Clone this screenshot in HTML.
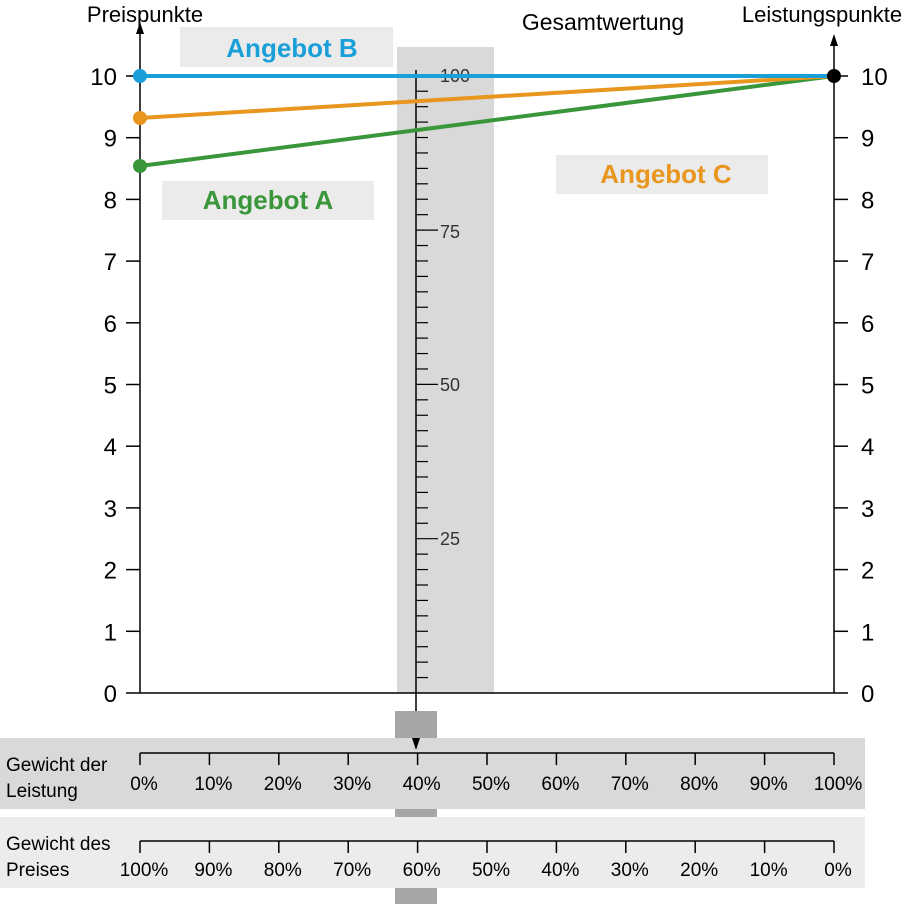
<!DOCTYPE html>
<html><head><meta charset="utf-8"><style>
body{margin:0;background:#fff;}
svg{display:block;font-family:"Liberation Sans",sans-serif;}
</style></head><body>
<svg width="918" height="904" viewBox="0 0 918 904">
<rect x="397" y="47" width="97" height="646" fill="#d9d9d9"/>
<rect x="180" y="27" width="213" height="40" fill="#ebebeb"/>
<rect x="162" y="181" width="212" height="39" fill="#ebebeb"/>
<rect x="556" y="155" width="212" height="39" fill="#ebebeb"/>
<text x="292" y="57" font-size="26" font-weight="bold" fill="#1a9fd8" text-anchor="middle">Angebot B</text>
<text x="268" y="209" font-size="26" font-weight="bold" fill="#3a963a" text-anchor="middle">Angebot A</text>
<text x="666" y="183" font-size="26" font-weight="bold" fill="#e8961e" text-anchor="middle">Angebot C</text>
<g stroke="#000" stroke-width="1.5" fill="none">
<line x1="140" y1="693" x2="834" y2="693"/>
<line x1="140" y1="693" x2="140" y2="30"/>
<line x1="834" y1="693" x2="834" y2="42"/>
<line x1="416" y1="70" x2="416" y2="738"/>
</g>
<polygon points="140,22 136,34 144,34" fill="#000"/>
<polygon points="834,34 830,46 838,46" fill="#000"/>
<polygon points="416,748 412,736 420,736" fill="#000"/>
<text x="145" y="22" font-size="22" text-anchor="middle">Preispunkte</text>
<text x="822" y="22" font-size="22" text-anchor="middle">Leistungspunkte</text>
<text x="603" y="30" font-size="23" text-anchor="middle">Gesamtwertung</text>
<g id="ticks" stroke="#000" stroke-width="1.5">
</g>
<g font-size="24" id="ylab"></g>
<g id="mid" stroke="#000" stroke-width="1.2"></g>
<text x="440" y="82" font-size="18" fill="#333">100</text>
<text x="440" y="238" font-size="18" fill="#333">75</text>
<text x="440" y="391" font-size="18" fill="#333">50</text>
<text x="440" y="545" font-size="18" fill="#333">25</text>
<line x1="140" y1="166" x2="834" y2="76" stroke="#3a963a" stroke-width="4"/>
<line x1="140" y1="118" x2="834" y2="76" stroke="#e8961e" stroke-width="4"/>
<line x1="140" y1="76" x2="834" y2="76" stroke="#1a9fd8" stroke-width="4"/>
<circle cx="140" cy="76" r="7" fill="#1a9fd8"/>
<circle cx="140" cy="118" r="7" fill="#e8961e"/>
<circle cx="140" cy="166" r="7" fill="#3a963a"/>
<circle cx="834" cy="76" r="7" fill="#000"/>
<rect x="395" y="711" width="42" height="27" fill="#a6a6a6"/>
<rect x="0" y="738" width="865" height="71" fill="#d9d9d9"/>
<rect x="395" y="809" width="42" height="8" fill="#a6a6a6"/>
<rect x="0" y="817" width="865" height="71" fill="#ececec"/>
<rect x="395" y="888" width="42" height="16" fill="#a6a6a6"/>
<line x1="416" y1="738" x2="416" y2="748" stroke="#000" stroke-width="1.5"/>
<polygon points="416,750 412,738 420,738" fill="#000"/>
<text x="6" y="771" font-size="19">Gewicht der</text>
<text x="6" y="797" font-size="19">Leistung</text>
<text x="6" y="850" font-size="19">Gewicht des</text>
<text x="6" y="876" font-size="19">Preises</text>
<g id="bot" stroke="#000" stroke-width="1.5">
<line x1="140" y1="753" x2="834" y2="753"/>
<line x1="140" y1="841" x2="834" y2="841"/>
</g>
<g id="blab" font-size="19" text-anchor="middle"></g>
</svg>
<script>
var ns="http://www.w3.org/2000/svg";
function el(p,t,a,txt){var e=document.createElementNS(ns,t);for(var k in a)e.setAttribute(k,a[k]);if(txt!==undefined)e.textContent=txt;document.getElementById(p).appendChild(e);}
for(var i=0;i<=10;i++){var y=693-i*61.7;
el("ticks","line",{x1:126,y1:y,x2:140,y2:y});el("ticks","line",{x1:834,y1:y,x2:848,y2:y});
el("ylab","text",{x:117,y:y+9,"text-anchor":"end"},i);el("ylab","text",{x:861,y:y+9},i);}
for(var j=1;j<40;j++){var y=693-j*15.43;var L=(j%10==0)?22:12;el("mid","line",{x1:416,y1:y,x2:416+L,y2:y});}
for(var i=0;i<=10;i++){var x=140+i*69.4;
el("bot","line",{x1:x,y1:753,x2:x,y2:765});el("bot","line",{x1:x,y1:841,x2:x,y2:853});
el("blab","text",{x:x+4,y:790},(i*10)+"%");el("blab","text",{x:x+4,y:876},(100-i*10)+"%");}
</script>
</body></html>
